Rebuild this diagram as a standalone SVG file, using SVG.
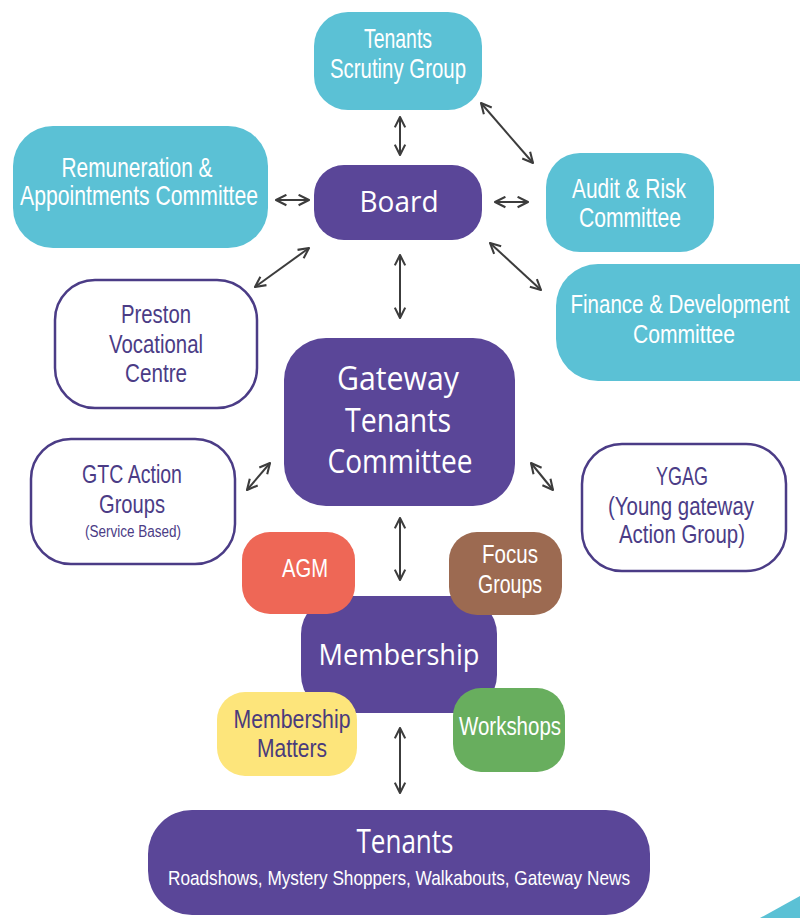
<svg xmlns="http://www.w3.org/2000/svg" width="800" height="918" viewBox="0 0 800 918">
<style>
.cy{fill:#5bc1d5}
.pu{fill:#5a4698}
.wb{fill:#fff;stroke:#4b3c86;stroke-width:2.5}
.t{font-family:"Liberation Sans",Arial,sans-serif;text-anchor:middle}
.w{fill:#fff}
.p{fill:#4b3c86}
.h{font-family:"Open Sans","DejaVu Sans",sans-serif;text-anchor:middle;fill:#fff}
.c{fill:none;stroke:#3c3c3c;stroke-width:2;marker-start:url(#ah);marker-end:url(#ah)}
</style>
<defs>
<marker id="ah" viewBox="0 0 10 10" refX="9" refY="5" markerWidth="13" markerHeight="13" markerUnits="userSpaceOnUse" orient="auto-start-reverse">
<path d="M1,1 L9,5 L1,9" fill="none" stroke="#3c3c3c" stroke-width="1.6" stroke-linejoin="round"/>
</marker>
</defs>
<rect width="800" height="918" fill="#fff"/>

<g id="scrutiny">
<rect class="cy" x="314" y="12" width="168" height="98" rx="34"/>
<text class="t w" x="398" y="48" font-size="28" textLength="68" lengthAdjust="spacingAndGlyphs">Tenants</text>
<text class="t w" x="398" y="78" font-size="28" textLength="136" lengthAdjust="spacingAndGlyphs">Scrutiny Group</text>
</g>
<g id="remuneration">
<rect class="cy" x="13" y="126" width="255" height="122" rx="40"/>
<text class="t w" x="137" y="177" font-size="28" textLength="151" lengthAdjust="spacingAndGlyphs">Remuneration &amp;</text>
<text class="t w" x="139" y="205" font-size="28" textLength="238" lengthAdjust="spacingAndGlyphs">Appointments Committee</text>
</g>
<g id="board">
<rect class="pu" x="314" y="165" width="168" height="75" rx="30"/>
<text class="h" x="399" y="212" font-size="30" textLength="79" lengthAdjust="spacingAndGlyphs">Board</text>
</g>
<g id="audit">
<rect class="cy" x="546" y="153" width="168" height="99" rx="34"/>
<text class="t w" x="629" y="198" font-size="28" textLength="114" lengthAdjust="spacingAndGlyphs">Audit &amp; Risk</text>
<text class="t w" x="630" y="227" font-size="28" textLength="102" lengthAdjust="spacingAndGlyphs">Committee</text>
</g>
<g id="finance">
<path class="cy" d="M598,264 H800 V381 H598 A42,42 0 0 1 556,339 V306 A42,42 0 0 1 598,264 Z"/>
<text class="t w" transform="translate(680,313) scale(0.79,1)" font-size="26">Finance &amp; Development</text>
<text class="t w" x="684" y="343" font-size="26" textLength="102" lengthAdjust="spacingAndGlyphs">Committee</text>
</g>
<g id="preston">
<rect class="wb" x="55" y="280" width="202" height="128" rx="40"/>
<text class="t p" x="156" y="323" font-size="26" textLength="70" lengthAdjust="spacingAndGlyphs">Preston</text>
<text class="t p" x="156" y="353" font-size="26" textLength="94" lengthAdjust="spacingAndGlyphs">Vocational</text>
<text class="t p" x="156" y="382" font-size="26" textLength="62" lengthAdjust="spacingAndGlyphs">Centre</text>
</g>
<g id="gtc">
<rect class="pu" x="284" y="338" width="231" height="168" rx="42"/>
<text class="h" x="398" y="390" font-size="32" textLength="122" lengthAdjust="spacingAndGlyphs">Gateway</text>
<text class="h" x="398" y="432" font-size="32" textLength="106" lengthAdjust="spacingAndGlyphs">Tenants</text>
<text class="h" x="400" y="473" font-size="32" textLength="145" lengthAdjust="spacingAndGlyphs">Committee</text>
</g>
<g id="gtcaction">
<rect class="wb" x="31" y="439" width="204" height="125" rx="40"/>
<text class="t p" x="132" y="483" font-size="26" textLength="100" lengthAdjust="spacingAndGlyphs">GTC Action</text>
<text class="t p" x="132" y="513" font-size="26" textLength="66" lengthAdjust="spacingAndGlyphs">Groups</text>
<text class="t p" x="133" y="537" font-size="16" textLength="96" lengthAdjust="spacingAndGlyphs">(Service Based)</text>
</g>
<g id="ygag">
<rect class="wb" x="582" y="444" width="204" height="127" rx="40"/>
<text class="t p" x="682" y="485" font-size="26" textLength="52" lengthAdjust="spacingAndGlyphs">YGAG</text>
<text class="t p" x="681" y="515" font-size="26" textLength="146" lengthAdjust="spacingAndGlyphs">(Young gateway</text>
<text class="t p" x="682" y="543" font-size="26" textLength="126" lengthAdjust="spacingAndGlyphs">Action Group)</text>
</g>
<g id="membership">
<rect class="pu" x="301" y="596" width="196" height="117" rx="38"/>
<text class="h" x="399" y="665" font-size="30" textLength="161" lengthAdjust="spacingAndGlyphs">Membership</text>
</g>
<g id="agm">
<rect fill="#ee6756" x="242" y="532" width="113" height="82" rx="28"/>
<text class="t w" x="305" y="577" font-size="26" textLength="46" lengthAdjust="spacingAndGlyphs">AGM</text>
</g>
<g id="focus">
<rect fill="#9c6a51" x="449" y="532" width="113" height="83" rx="28"/>
<text class="t w" x="510" y="563" font-size="26" textLength="56" lengthAdjust="spacingAndGlyphs">Focus</text>
<text class="t w" x="510" y="593" font-size="26" textLength="64" lengthAdjust="spacingAndGlyphs">Groups</text>
</g>
<g id="matters">
<rect fill="#fde57b" x="217" y="692" width="140" height="84" rx="28"/>
<text class="t" fill="#4a3b7c" x="292" y="728" font-size="26" textLength="117" lengthAdjust="spacingAndGlyphs">Membership</text>
<text class="t" fill="#4a3b7c" x="292" y="757" font-size="26" textLength="70" lengthAdjust="spacingAndGlyphs">Matters</text>
</g>
<g id="workshops">
<rect fill="#68ae5e" x="453" y="688" width="112" height="84" rx="28"/>
<text class="t w" x="510" y="735" font-size="26" textLength="102" lengthAdjust="spacingAndGlyphs">Workshops</text>
</g>
<g id="tenants">
<rect class="pu" x="148" y="810" width="502" height="105" rx="44"/>
<text class="h" x="405" y="853" font-size="32" textLength="97" lengthAdjust="spacingAndGlyphs">Tenants</text>
<text class="t w" x="399" y="885" font-size="21" textLength="462" lengthAdjust="spacingAndGlyphs">Roadshows, Mystery Shoppers, Walkabouts, Gateway News</text>
</g>

<g id="connectors">
<line class="c" x1="400" y1="117" x2="400" y2="155"/>
<line class="c" x1="481" y1="103" x2="533" y2="163"/>
<line class="c" x1="276" y1="200" x2="309" y2="200"/>
<line class="c" x1="495" y1="202" x2="528" y2="202"/>
<line class="c" x1="309" y1="248" x2="255" y2="287"/>
<line class="c" x1="400" y1="255" x2="400" y2="318"/>
<line class="c" x1="490" y1="243" x2="541" y2="290"/>
<line class="c" x1="270" y1="463" x2="247" y2="490"/>
<line class="c" x1="531" y1="463" x2="553" y2="490"/>
<line class="c" x1="400" y1="518" x2="400" y2="580"/>
<line class="c" x1="400" y1="728" x2="400" y2="793"/>
</g>
<polygon class="cy" points="760,918 800,896 800,918"/>
</svg>
